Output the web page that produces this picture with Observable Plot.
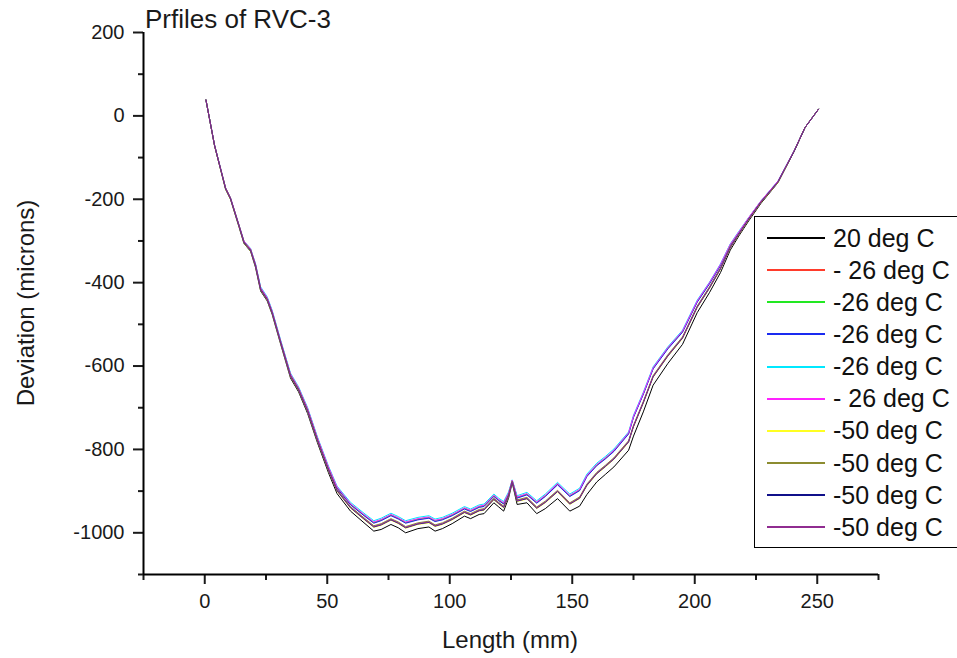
<!DOCTYPE html>
<html><head><meta charset="utf-8">
<script src="https://cdn.jsdelivr.net/npm/d3@7"></script>
<script src="https://cdn.jsdelivr.net/npm/@observablehq/plot@0.6"></script>
<style>
body{margin:0;background:#fff;font-family:Arial,"Liberation Sans",sans-serif;}
#wrap{position:relative;width:957px;height:658px;overflow:hidden;background:#fff}
#legend{position:absolute;left:754px;top:216px;width:230px;height:332px;border:1.5px solid #000;background:#fff;box-sizing:border-box}
.row{position:absolute;left:12px;height:32px;display:flex;align-items:center;font-size:25px;color:#111;white-space:pre}
.sw{width:58px;height:2px;margin-right:8px}
</style></head><body>
<div id="wrap"><div id="legend"></div></div>
<script>
const lengthMm = [0.5, 4, 8.5, 10.5, 14, 16, 18.7, 20.7, 22.8, 25.5,
  27.5, 31, 35, 38.3, 42, 46, 50.5, 54, 59.5, 65,
  69, 72, 76, 79, 82, 87, 91.5, 94, 97, 101,
  106, 108.5, 112, 114, 118, 120, 122, 124, 125.5, 127.5,
  131.5, 135.5, 139, 144, 149, 153, 156, 160, 163.5, 167,
  173, 175, 179, 183, 189, 195, 201, 206, 210.5, 214.5,
  218, 222, 227, 234, 240.5, 245, 250.5];

const dev20 = [38, -72, -176, -200, -267, -306, -325, -363, -420, -444,
  -476, -548, -629, -662, -714, -784, -856, -906, -948, -976,
  -996, -992, -980, -988, -1000, -990, -986, -996, -990, -978,
  -960, -966, -956, -954, -928, -938, -948, -917, -880, -932,
  -928, -954, -942, -918, -948, -936, -908, -878, -860, -842,
  -802, -768, -710, -646, -594, -548, -472, -424, -376, -322,
  -288, -252, -210, -160, -86, -28, 16];
const devM26a = [38, -70, -173, -197, -263, -301, -320, -356, -413, -437,
  -469, -541, -620, -653, -703, -773, -844, -892, -932, -958,
  -976, -970, -958, -966, -976, -968, -964, -972, -968, -958,
  -942, -948, -938, -936, -912, -922, -930, -906, -874, -916,
  -908, -928, -912, -884, -912, -898, -864, -838, -822, -804,
  -762, -722, -667, -606, -558, -518, -446, -402, -358, -310,
  -280, -245, -205, -157, -85, -28, 16];
const devM26b = [38, -70, -173, -197, -263, -301, -320, -356, -413, -437,
  -469, -541, -620, -653, -703, -773, -843, -891, -931, -957,
  -975, -969, -957, -965, -975, -967, -963, -971, -967, -957,
  -941, -947, -937, -935, -911, -921, -929, -906, -875, -915,
  -907, -927, -911, -883, -911, -897, -863, -837, -821, -803,
  -761, -721, -666, -605, -557, -517, -445, -401, -357, -309,
  -279, -245, -205, -157, -85, -28, 16];
const devM26c = [38, -71, -174, -198, -264, -302, -321, -357, -414, -438,
  -470, -542, -621, -654, -705, -775, -845, -893, -933, -959,
  -977, -971, -959, -967, -977, -969, -965, -973, -969, -959,
  -943, -949, -939, -937, -913, -923, -931, -908, -876, -917,
  -909, -929, -913, -885, -913, -899, -865, -839, -823, -805,
  -763, -723, -668, -607, -559, -519, -447, -403, -359, -311,
  -281, -246, -206, -157, -85, -28, 16];
const devM26d = [38, -70, -172, -196, -262, -300, -318, -354, -410, -434,
  -466, -538, -617, -650, -700, -770, -840, -888, -927, -953,
  -971, -965, -953, -961, -971, -963, -959, -967, -963, -953,
  -937, -943, -933, -931, -907, -917, -925, -902, -873, -911,
  -903, -923, -907, -879, -907, -893, -859, -833, -817, -799,
  -758, -718, -663, -602, -554, -514, -442, -399, -355, -307,
  -277, -244, -204, -156, -84, -28, 16];
const devM26e = [38, -70, -172, -196, -262, -300, -319, -355, -412, -436,
  -468, -540, -619, -652, -702, -772, -842, -890, -930, -956,
  -974, -968, -956, -964, -974, -966, -962, -970, -966, -956,
  -940, -946, -936, -934, -910, -920, -928, -905, -874, -914,
  -906, -926, -910, -882, -910, -896, -862, -836, -820, -802,
  -760, -720, -665, -604, -556, -516, -444, -400, -356, -308,
  -278, -244, -204, -156, -84, -28, 16];
const devM50a = [38, -72, -176, -200, -266, -305, -324, -361, -418, -442,
  -474, -546, -626, -659, -710, -780, -851, -900, -941, -968,
  -987, -982, -970, -978, -989, -980, -976, -985, -980, -969,
  -952, -958, -948, -946, -921, -931, -940, -913, -878, -925,
  -919, -942, -928, -902, -932, -918, -887, -859, -842, -824,
  -783, -746, -689, -627, -577, -534, -460, -414, -368, -317,
  -285, -249, -208, -159, -86, -28, 16];
const devM50b = [38, -71, -173, -197, -263, -302, -321, -358, -415, -439,
  -471, -543, -622, -655, -706, -776, -847, -896, -937, -964,
  -983, -978, -966, -974, -985, -976, -972, -981, -976, -965,
  -948, -954, -944, -942, -917, -927, -936, -909, -876, -921,
  -915, -938, -924, -898, -928, -914, -883, -855, -838, -820,
  -779, -742, -685, -623, -573, -530, -456, -410, -364, -313,
  -282, -247, -206, -158, -85, -28, 16];
const devM50c = [38, -71, -175, -199, -265, -304, -323, -360, -417, -441,
  -473, -545, -625, -658, -709, -779, -850, -899, -940, -967,
  -986, -981, -969, -977, -988, -979, -975, -984, -979, -968,
  -951, -957, -947, -945, -920, -930, -939, -912, -878, -924,
  -918, -941, -927, -901, -931, -917, -886, -858, -841, -823,
  -782, -745, -688, -626, -576, -533, -459, -413, -367, -316,
  -284, -248, -207, -158, -86, -28, 16];
const devM50d = [38, -71, -174, -198, -264, -303, -322, -359, -416, -440,
  -472, -544, -624, -657, -708, -778, -849, -898, -939, -966,
  -985, -980, -968, -976, -987, -978, -974, -983, -978, -967,
  -950, -956, -946, -944, -919, -929, -938, -911, -877, -923,
  -917, -940, -926, -900, -930, -916, -885, -857, -840, -822,
  -781, -744, -687, -625, -575, -532, -458, -412, -366, -315,
  -283, -248, -207, -158, -85, -28, 16];

const seriesNames = ["20 deg C", "- 26 deg C", "-26 deg C", "-26 deg C", "-26 deg C",
  "- 26 deg C", "-50 deg C", "-50 deg C", "-50 deg C", "-50 deg C"];
const seriesColors = ["#000000", "#ff3b2b", "#22e822", "#1a2bf0", "#00e8ff",
  "#ff22ff", "#ffff22", "#8c8c30", "#10108a", "#902c90"];
const seriesValues = [dev20, devM26a, devM26b, devM26c, devM26d, devM26e,
  devM50a, devM50b, devM50c, devM50d];

const xDomain = [-25, 275];
const yDomain = [-1100, 200];
const xTicks = [0, 50, 100, 150, 200, 250];
const xMinorTicks = [-25, 25, 75, 125, 175, 225, 275];
const yTicks = [-1000, -800, -600, -400, -200, 0, 200];
const yMinorTicks = [-1100, -900, -700, -500, -300, -100, 100];

const chartTitle = "Prfiles of RVC-3";
const xLabel = "Length (mm)";
const yLabel = "Deviation (microns)";

const plainFormat = d => String(d);

const lines = seriesValues.map((vals, i) =>
  Plot.line(lengthMm.map((x, j) => ({x, y: vals[j]})),
    {x: "x", y: "y", stroke: seriesColors[i], strokeWidth: 1}));

const svg = Plot.plot({
  width: 957, height: 658,
  marginLeft: 143, marginRight: 79, marginTop: 32, marginBottom: 84,
  style: {fontFamily: 'Arial, "Liberation Sans", sans-serif', color: "#1a1a1a", background: "white", overflow: "visible"},
  x: {domain: xDomain},
  y: {domain: yDomain},
  marks: [
    ...lines,
    Plot.axisX({ticks: xTicks, tickSize: 10, tickPadding: 9, strokeWidth: 2, fontSize: 20, tickFormat: plainFormat, label: null}),
    Plot.axisX({ticks: xMinorTicks, tickSize: 6, strokeWidth: 2, tickFormat: () => "", label: null}),
    Plot.axisY({ticks: yTicks, tickSize: 10, tickPadding: 9, strokeWidth: 2, fontSize: 20, tickFormat: plainFormat, label: null}),
    Plot.axisY({ticks: yMinorTicks, tickSize: 5, strokeWidth: 2, tickFormat: () => "", label: null}),
    Plot.ruleX([xDomain[0]], {strokeWidth: 2, stroke: "#000"}),
    Plot.ruleY([yDomain[0]], {strokeWidth: 2, stroke: "#000"})
  ]
});

const s = d3.select(svg);
s.append("text").attr("x", 145).attr("y", 28).attr("text-anchor", "start").attr("font-size", 26).attr("fill", "#1a1a1a").text(chartTitle);
s.append("text").attr("x", 510).attr("y", 648).attr("text-anchor", "middle").attr("font-size", 24).attr("fill", "#1a1a1a").text(xLabel);
s.append("text").attr("transform", "translate(34,303) rotate(-90)").attr("text-anchor", "middle").attr("font-size", 24).attr("fill", "#1a1a1a").text(yLabel);

const wrap = document.getElementById("wrap");
wrap.insertBefore(svg, wrap.firstChild);

const legend = document.getElementById("legend");
seriesNames.forEach((name, i) => {
  const row = document.createElement("div");
  row.className = "row";
  row.style.top = (5 + i * 32.15) + "px";
  const sw = document.createElement("div");
  sw.className = "sw";
  sw.style.background = seriesColors[i];
  row.appendChild(sw);
  const t = document.createElement("span");
  t.textContent = name;
  row.appendChild(t);
  legend.appendChild(row);
});
</script>
</body></html>
